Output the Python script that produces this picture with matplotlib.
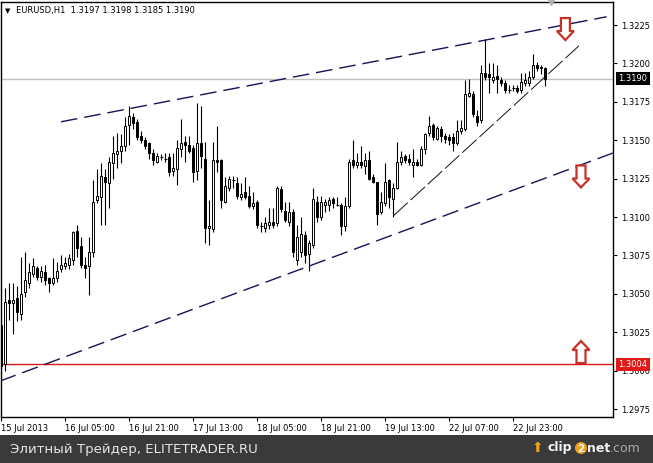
import numpy as np
import matplotlib
matplotlib.use("Agg")
import matplotlib.pyplot as plt
from matplotlib.patches import Rectangle, Polygon, Circle
from matplotlib.transforms import Affine2D, blended_transform_factory

# ---------------- data (EURUSD H1) ----------------
opens = [1.3030, 1.3004, 1.3046, 1.3044, 1.3047, 1.3037, 1.3051, 1.3057, 1.3063, 1.3067,
         1.3061, 1.3064, 1.3060, 1.3057, 1.3060, 1.3066, 1.3068, 1.3069, 1.3072, 1.3091,
         1.3081, 1.3069, 1.3068, 1.3077, 1.3111, 1.3113, 1.3126, 1.3122, 1.3135, 1.3141,
         1.3143, 1.3146, 1.3160, 1.3165, 1.3162, 1.3153, 1.3150, 1.3148, 1.3142, 1.3136,
         1.3139, 1.3138, 1.3139, 1.3130, 1.3131, 1.3144, 1.3149, 1.3147, 1.3145, 1.3130,
         1.3148, 1.3138, 1.3093, 1.3092, 1.3137, 1.3137, 1.3110, 1.3119, 1.3124, 1.3122,
         1.3113, 1.3116, 1.3114, 1.3107, 1.3110, 1.3094, 1.3093, 1.3095, 1.3097, 1.3096,
         1.3118, 1.3104, 1.3097, 1.3103, 1.3072, 1.3077, 1.3088, 1.3076, 1.3082, 1.3110,
         1.3100, 1.3108, 1.3108, 1.3112, 1.3108, 1.3108, 1.3094, 1.3107, 1.3137, 1.3134,
         1.3136, 1.3133, 1.3137, 1.3126, 1.3123, 1.3103, 1.3109, 1.3124, 1.3112, 1.3119,
         1.3136, 1.3140, 1.3138, 1.3134, 1.3136, 1.3134, 1.3144, 1.3155, 1.3160, 1.3151,
         1.3157, 1.3153, 1.3152, 1.3152, 1.3148, 1.3156, 1.3157, 1.3179, 1.3180, 1.3166,
         1.3163, 1.3194, 1.3193, 1.3189, 1.3192, 1.3189, 1.3187, 1.3183, 1.3184, 1.3184,
         1.3183, 1.3187, 1.3187, 1.3191, 1.3199, 1.3198, 1.3197]
highs = [1.3035, 1.3054, 1.3057, 1.3057, 1.3055, 1.3074, 1.3077, 1.3070, 1.3073, 1.3068,
         1.3068, 1.3069, 1.3061, 1.3073, 1.3071, 1.3075, 1.3074, 1.3076, 1.3091, 1.3095,
         1.3087, 1.3074, 1.3087, 1.3124, 1.3131, 1.3135, 1.3131, 1.3139, 1.3153, 1.3155,
         1.3154, 1.3165, 1.3172, 1.3168, 1.3164, 1.3156, 1.3152, 1.3149, 1.3144, 1.3142,
         1.3141, 1.3142, 1.3142, 1.3142, 1.3150, 1.3164, 1.3153, 1.3153, 1.3147, 1.3174,
         1.3172, 1.3149, 1.3111, 1.3149, 1.3159, 1.3138, 1.3126, 1.3127, 1.3127, 1.3126,
         1.3122, 1.3126, 1.3120, 1.3116, 1.3111, 1.3097, 1.3100, 1.3106, 1.3106, 1.3120,
         1.3120, 1.3110, 1.3110, 1.3105, 1.3095, 1.3100, 1.3091, 1.3085, 1.3119, 1.3114,
         1.3114, 1.3112, 1.3113, 1.3113, 1.3113, 1.3109, 1.3113, 1.3138, 1.3150, 1.3142,
         1.3146, 1.3142, 1.3143, 1.3128, 1.3123, 1.3116, 1.3135, 1.3125, 1.3122, 1.3149,
         1.3143, 1.3141, 1.3141, 1.3144, 1.3138, 1.3146, 1.3155, 1.3166, 1.3161, 1.3159,
         1.3159, 1.3155, 1.3154, 1.3155, 1.3163, 1.3163, 1.3189, 1.3190, 1.3182, 1.3170,
         1.3199, 1.3216, 1.3200, 1.3200, 1.3199, 1.3191, 1.3189, 1.3186, 1.3186, 1.3186,
         1.3194, 1.3194, 1.3195, 1.3206, 1.3201, 1.3199, 1.3198]
lows = [1.2998, 1.3000, 1.3033, 1.3024, 1.3032, 1.3033, 1.3048, 1.3054, 1.3061, 1.3059,
        1.3058, 1.3056, 1.3051, 1.3056, 1.3058, 1.3064, 1.3066, 1.3066, 1.3069, 1.3074,
        1.3067, 1.3060, 1.3049, 1.3074, 1.3109, 1.3095, 1.3095, 1.3106, 1.3125, 1.3132,
        1.3135, 1.3143, 1.3147, 1.3157, 1.3150, 1.3148, 1.3144, 1.3138, 1.3134, 1.3135,
        1.3137, 1.3136, 1.3127, 1.3127, 1.3121, 1.3139, 1.3136, 1.3142, 1.3123, 1.3124,
        1.3132, 1.3083, 1.3082, 1.3090, 1.3129, 1.3106, 1.3109, 1.3117, 1.3119, 1.3112,
        1.3111, 1.3112, 1.3106, 1.3105, 1.3093, 1.3090, 1.3090, 1.3092, 1.3093, 1.3094,
        1.3103, 1.3097, 1.3094, 1.3074, 1.3069, 1.3074, 1.3070, 1.3065, 1.3080, 1.3097,
        1.3098, 1.3103, 1.3104, 1.3106, 1.3107, 1.3088, 1.3091, 1.3106, 1.3132, 1.3132,
        1.3132, 1.3128, 1.3124, 1.3122, 1.3095, 1.3102, 1.3107, 1.3106, 1.3100, 1.3118,
        1.3134, 1.3135, 1.3134, 1.3126, 1.3133, 1.3133, 1.3141, 1.3153, 1.3150, 1.3150,
        1.3149, 1.3148, 1.3147, 1.3143, 1.3147, 1.3154, 1.3156, 1.3178, 1.3165, 1.3159,
        1.3161, 1.3189, 1.3181, 1.3187, 1.3181, 1.3185, 1.3181, 1.3181, 1.3182, 1.3181,
        1.3181, 1.3185, 1.3185, 1.3190, 1.3195, 1.3193, 1.3185]
closes = [1.3003, 1.3045, 1.3044, 1.3046, 1.3038, 1.3050, 1.3059, 1.3064, 1.3068, 1.3061,
          1.3065, 1.3059, 1.3057, 1.3060, 1.3065, 1.3069, 1.3070, 1.3073, 1.3090, 1.3080,
          1.3069, 1.3067, 1.3077, 1.3110, 1.3114, 1.3127, 1.3123, 1.3136, 1.3142, 1.3143,
          1.3146, 1.3159, 1.3166, 1.3161, 1.3152, 1.3150, 1.3146, 1.3142, 1.3137, 1.3140,
          1.3139, 1.3138, 1.3129, 1.3132, 1.3145, 1.3148, 1.3147, 1.3143, 1.3129, 1.3148,
          1.3140, 1.3093, 1.3094, 1.3137, 1.3136, 1.3111, 1.3120, 1.3125, 1.3124, 1.3114,
          1.3115, 1.3113, 1.3107, 1.3109, 1.3095, 1.3094, 1.3096, 1.3097, 1.3095, 1.3119,
          1.3105, 1.3098, 1.3103, 1.3077, 1.3087, 1.3089, 1.3075, 1.3083, 1.3112, 1.3100,
          1.3110, 1.3110, 1.3111, 1.3109, 1.3108, 1.3094, 1.3107, 1.3136, 1.3134, 1.3136,
          1.3134, 1.3137, 1.3125, 1.3123, 1.3102, 1.3110, 1.3123, 1.3113, 1.3119, 1.3136,
          1.3139, 1.3137, 1.3136, 1.3136, 1.3134, 1.3144, 1.3154, 1.3159, 1.3152, 1.3158,
          1.3153, 1.3151, 1.3150, 1.3148, 1.3156, 1.3158, 1.3180, 1.3181, 1.3167, 1.3162,
          1.3194, 1.3191, 1.3191, 1.3191, 1.3190, 1.3187, 1.3183, 1.3183, 1.3184, 1.3182,
          1.3188, 1.3189, 1.3191, 1.3199, 1.3197, 1.3197, 1.3190]

tick_positions = [0, 16, 32, 48, 64, 80, 96, 112, 128]
tick_labels = ["15 Jul 2013", "16 Jul 05:00", "16 Jul 21:00", "17 Jul 13:00", "18 Jul 05:00",
               "18 Jul 21:00", "19 Jul 13:00", "22 Jul 07:00", "22 Jul 23:00"]
price_ticks = [1.2975, 1.3000, 1.3025, 1.3050, 1.3075, 1.3100, 1.3125, 1.3150, 1.3175, 1.3200, 1.3225]

upper_channel = ([15.0, 151.4], [1.31620, 1.32304])
lower_channel = ([-0.25, 153.0], [1.29932, 1.31417])
support_line = ([98.1, 144.5], [1.31008, 1.32115])
red_level = 1.3004
bid_level = 1.3190
arrows = [(141.1, 1.32224, "down"), (145.0, 1.31264, "down"), (145.0, 1.30121, "up")]

header = "EURUSD,H1  1.3197 1.3198 1.3185 1.3190"
footer = "Элитный Трейдер, ELITETRADER.RU"

# ---------------- figure ----------------
W, H = 653, 463
plt.rcParams['font.family'] = ['DejaVu Sans']
fig = plt.figure(figsize=(W / 100, H / 100), dpi=100)
fig.patch.set_facecolor('white')
ax = fig.add_axes([0.5 / W, (H - 417) / H, 612 / W, 415 / H])
ax.set_facecolor('white')
ax.set_xlim(-0.125, 152.875)
ax.set_ylim(1.29698, 1.32400)

for s in ax.spines.values():
    s.set_color('black')
    s.set_linewidth(1.0)

# horizontal levels
ax.axhline(bid_level, color='#c0c0c0', lw=1.0, zorder=1)
ax.axhline(red_level, color='#d81818', lw=1.0, zorder=1)

# trend lines
ax.plot(*upper_channel, color='#14145a', lw=1.0, linestyle=(0, (12, 5)), zorder=2)
ax.plot(*lower_channel, color='#14145a', lw=1.0, linestyle=(0, (12, 5)), zorder=2)
ax.plot(*support_line, color='#101010', lw=0.7, linestyle=(0, (20, 4)), zorder=2)

# candles
bw = 0.55
for i, (o, h, l, c) in enumerate(zip(opens, highs, lows, closes)):
    ax.vlines(i, l, h, color='black', lw=0.8, zorder=3)
    if abs(c - o) < 0.00005:
        ax.hlines(o, i - bw / 2 - 0.1, i + bw / 2 + 0.1, color='black', lw=0.8, zorder=4)
    else:
        fc = 'white' if c > o else 'black'
        ax.add_patch(Rectangle((i - bw / 2, min(o, c)), bw, abs(c - o),
                               facecolor=fc, edgecolor='black', lw=0.7, zorder=4))

# ticks
ax.yaxis.tick_right()
ax.set_yticks(price_ticks)
ax.set_yticklabels([f"{p:.4f}" for p in price_ticks])
ax.tick_params(axis='y', direction='out', length=3, width=0.8, pad=3, labelsize=6, colors='black')
ax.set_xticks(tick_positions)
ax.set_xticklabels(tick_labels)
ax.tick_params(axis='x', direction='out', length=3, width=0.8, pad=2, labelsize=6, colors='black')
for lbl in ax.get_xticklabels():
    lbl.set_horizontalalignment('left')

# price label boxes on right axis
bt = blended_transform_factory(ax.transAxes, ax.transData)
ax.annotate(f"{bid_level:.4f}", xy=(1, bid_level), xycoords=bt, xytext=(6, 0),
            textcoords='offset pixels', ha='left', va='center', fontsize=6, color='white',
            bbox=dict(boxstyle='square,pad=0.25', fc='black', ec='none'),
            annotation_clip=False, zorder=10)
ax.annotate(f"{red_level:.4f}", xy=(1, red_level), xycoords=bt, xytext=(6, 0),
            textcoords='offset pixels', ha='left', va='center', fontsize=6, color='white',
            bbox=dict(boxstyle='square,pad=0.25', fc='#e01818', ec='none'),
            annotation_clip=False, zorder=10)

# hollow arrows
fig.canvas.draw()
down_shape = np.array([[-4.5, 11], [4.5, 11], [4.5, -2], [8.5, -2], [0, -11],
                       [-8.5, -2], [-4.5, -2]])
for xi, yp, d in arrows:
    verts = down_shape.copy()
    if d == "up":
        verts[:, 1] *= -1
    cx, cy = ax.transData.transform((xi, yp))
    ax.add_patch(Polygon(verts, closed=True, facecolor='white', edgecolor='#c8302a', lw=1.6,
                         transform=Affine2D().translate(cx, cy), zorder=8, clip_on=False))

# chart shift marker
ax.plot([137.5], [1.0], marker='v', color='#b0b0b0', markersize=5,
        transform=blended_transform_factory(ax.transData, ax.transAxes), clip_on=False, zorder=9)

# header
fig.text(5 / W, 1 - 11 / H, "\u25BC", fontsize=5, color='black', va='center', ha='left')
fig.text(16 / W, 1 - 11 / H, header, fontsize=6, color='black', va='center', ha='left')

# footer
fig.patches.append(Rectangle((0, 0), 1, 28 / H, transform=fig.transFigure,
                             facecolor='#3a3a3a', edgecolor='none', zorder=0))
fig.text(10 / W, 14 / H, footer, fontsize=9.6, color='#e4e4e4', va='center', ha='left')
fig.text(537 / W, 15 / H, "\u2B06", fontsize=10, color='#f0a020', va='center', ha='center')
fig.text(548 / W, 15 / H, "clip", fontsize=9, fontweight='bold', color='#f2f2f2', va='center', ha='left')
fig.patches.append(Circle((581, 15), 6, transform=None,
                          facecolor='#f0a020', edgecolor='none', zorder=5))
fig.text(581 / W, 14.5 / H, "2", fontsize=7.5, fontweight='bold', color='white', va='center',
         ha='center', zorder=6)
fig.text(587.5 / W, 15 / H, "net", fontsize=9, fontweight='bold', color='#f2f2f2', va='center', ha='left')
fig.text(610 / W, 15 / H, ".com", fontsize=9, color='#a8a8a8', va='center', ha='left')

fig.savefig("out.png", dpi=100)
